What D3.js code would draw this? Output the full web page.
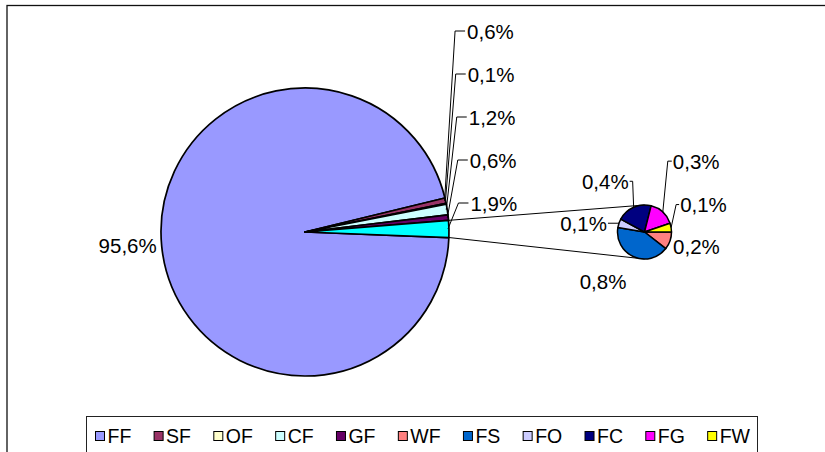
<!DOCTYPE html>
<html>
<head>
<meta charset="utf-8">
<script src="https://cdn.jsdelivr.net/npm/d3@7"></script>
<style>
  html, body { margin: 0; padding: 0; background: #fff; }
  svg { display: block; font-family: "Liberation Sans", Arial, sans-serif; }
</style>
</head>
<body>
<svg id="chart" width="825" height="452"></svg>
<script>
// Categories in legend order with their fill colours
const categories = ["FF", "SF", "OF", "CF", "GF", "WF", "FS", "FO", "FC", "FG", "FW"];
const categoryColors = ["#9999FF", "#993366", "#FFFFCC", "#CCFFFF", "#660066", "#FF8080",
                        "#0066CC", "#CCCCFF", "#000080", "#FF00FF", "#FFFF00"];

// Primary pie: shares in percent, plus the grouped remainder
const mainCategories = ["FF", "SF", "OF", "CF", "GF"];
const mainValues = [95.6, 0.6, 0.1, 1.2, 0.6];
const otherLabel = "Other";
const otherValue = 1.9;
const otherColor = "#00FFFF";

// Secondary pie: breakdown of the grouped remainder
const secondaryCategories = ["WF", "FS", "FO", "FC", "FG", "FW"];
const secondaryValues = [0.2, 0.8, 0.1, 0.4, 0.3, 0.1];

const svg = d3.select("#chart");
const color = d3.scaleOrdinal().domain(categories.concat([otherLabel]))
  .range(categoryColors.concat([otherColor]));
const fmt = v => d3.format(".1f")(v).replace(".", ",") + "%";
const deg = Math.PI / 180;

// Outer chart frame (continues past the right and bottom edges)
svg.append("rect")
  .attr("x", 7).attr("y", 5.5).attr("width", 840).attr("height", 470)
  .attr("fill", "none").attr("stroke", "#111").attr("stroke-width", 1.3);

// Geometry
const main = { cx: 305, cy: 232, r: 144 };
const sec = { cx: 644.5, cy: 232, r: 27 };

const mainData = mainCategories.map((c, i) => ({ cat: c, value: mainValues[i] }))
  .concat([{ cat: otherLabel, value: otherValue }]);
const secData = secondaryCategories.map((c, i) => ({ cat: c, value: secondaryValues[i] }));

const mainStart = 92.2 * deg;
const mainPie = d3.pie().sort(null).value(d => d.value)
  .startAngle(mainStart).endAngle(mainStart + 2 * Math.PI);
const secPie = d3.pie().sort(null).value(d => d.value)
  .startAngle(90 * deg).endAngle(90 * deg + 2 * Math.PI);

const mainArcs = mainPie(mainData);
const secArcs = secPie(secData);

const mainArc = d3.arc().innerRadius(0).outerRadius(main.r);
const secArc = d3.arc().innerRadius(0).outerRadius(sec.r);

// point on a circle for a d3 arc angle (0 = 12 o'clock, clockwise)
const onCircle = (c, a, r) => [c.cx + r * Math.sin(a), c.cy - r * Math.cos(a)];

// Connector lines from the grouped slice to the secondary pie
const otherArc = mainArcs[mainArcs.length - 1];
const pTop = onCircle(main, otherArc.startAngle, main.r);
const pBot = onCircle(main, otherArc.endAngle, main.r);
const conn = svg.append("g").attr("stroke", "#000").attr("stroke-width", 1);
conn.append("line").attr("x1", pTop[0]).attr("y1", pTop[1])
  .attr("x2", sec.cx).attr("y2", sec.cy - sec.r);
conn.append("line").attr("x1", pBot[0]).attr("y1", pBot[1])
  .attr("x2", sec.cx).attr("y2", sec.cy + sec.r);

// Primary pie
svg.append("g").attr("transform", `translate(${main.cx},${main.cy})`)
  .selectAll("path").data(mainArcs).join("path")
  .attr("d", mainArc)
  .attr("fill", d => color(d.data.cat))
  .attr("stroke", "#000").attr("stroke-width", 1.7).attr("stroke-linejoin", "round");

// Secondary pie
svg.append("g").attr("transform", `translate(${sec.cx},${sec.cy})`)
  .selectAll("path").data(secArcs).join("path")
  .attr("d", secArc)
  .attr("fill", d => color(d.data.cat))
  .attr("stroke", "#000").attr("stroke-width", 1.5).attr("stroke-linejoin", "round");

// Labels
const labels = svg.append("g").attr("font-size", 20.5).attr("fill", "#000");
const leaders = svg.append("g").attr("fill", "none").attr("stroke", "#000").attr("stroke-width", 1);

function addLabel(x, y, anchor, text) {
  labels.append("text").attr("x", x).attr("y", y)
    .attr("text-anchor", anchor).attr("dominant-baseline", "central").text(text);
}

// Large slice: label outside on the left
{
  const a = mainArcs[0];
  const mid = (a.startAngle + a.endAngle) / 2;
  const p = onCircle(main, mid, main.r + 6);
  addLabel(p[0] + 1, p[1] - 1, "end", fmt(a.value));
}

// Thin slices: stacked labels on the right with elbow leaders
mainArcs.slice(1).forEach((a, i) => {
  const mid = (a.startAngle + a.endAngle) / 2;
  const edge = onCircle(main, mid, main.r - 1);
  const ly = 31 + i * 43;
  const elbowX = edge[0] + 10.5;
  const tickEnd = elbowX + 10;
  leaders.append("path")
    .attr("d", `M${edge[0]},${edge[1]}L${elbowX},${ly}L${tickEnd},${ly}`);
  addLabel(tickEnd + 2, ly, "start", fmt(a.value));
});

// Secondary pie labels: offsets from the slice edge
const secLabelLayout = {
  WF: { dx: 3, dy: 6, anchor: "start", leader: false },
  FS: { dx: -54, dy: 25, anchor: "start", leader: false },
  FO: { dx: -12, dy: 0, anchor: "end", leader: true, hx: -11 },
  FC: { dx: -5, dy: -26, anchor: "end", leader: true, hx: -4 },
  FG: { dx: 10, dy: -51, anchor: "start", leader: true, hx: 5 },
  FW: { dx: 9, dy: -23, anchor: "start", leader: true, hx: 4 }
};
secArcs.forEach(a => {
  const mid = (a.startAngle + a.endAngle) / 2;
  const edge = onCircle(sec, mid, sec.r);
  const L = secLabelLayout[a.data.cat];
  const lx = edge[0] + L.dx, ly = edge[1] + L.dy;
  if (L.leader) {
    const elbowX = lx - L.hx;
    leaders.append("path")
      .attr("d", `M${edge[0]},${edge[1]}L${elbowX},${ly}L${lx + (L.anchor === "end" ? 1 : -1)},${ly}`);
  }
  addLabel(lx, ly, L.anchor, fmt(a.value));
});

// Legend
const legend = svg.append("g");
legend.append("rect")
  .attr("x", 86.5).attr("y", 416.5).attr("width", 671).attr("height", 60)
  .attr("fill", "#fff").attr("stroke", "#222").attr("stroke-width", 1);

const legendItems = legend.selectAll("g.item").data(categories).join("g").attr("class", "item");
legendItems.append("text")
  .attr("font-size", 19.5).attr("dominant-baseline", "central")
  .attr("y", 436).text(d => d);
const widths = [];
legendItems.select("text").each(function () { widths.push(this.getComputedTextLength()); });
const sq = 9, gapIn = 3.5, startX = 95, endX = 750;
const totalText = d3.sum(widths);
const gapOut = (endX - startX - totalText - categories.length * (sq + gapIn)) / (categories.length - 1);
let x = startX;
legendItems.each(function (d, i) {
  const g = d3.select(this);
  g.insert("rect", "text")
    .attr("x", x + 0.5).attr("y", 431.5).attr("width", sq).attr("height", sq)
    .attr("fill", color(d)).attr("stroke", "#000").attr("stroke-width", 1);
  g.select("text").attr("x", x + sq + gapIn);
  x += sq + gapIn + widths[i] + gapOut;
});
</script>
</body>
</html>
